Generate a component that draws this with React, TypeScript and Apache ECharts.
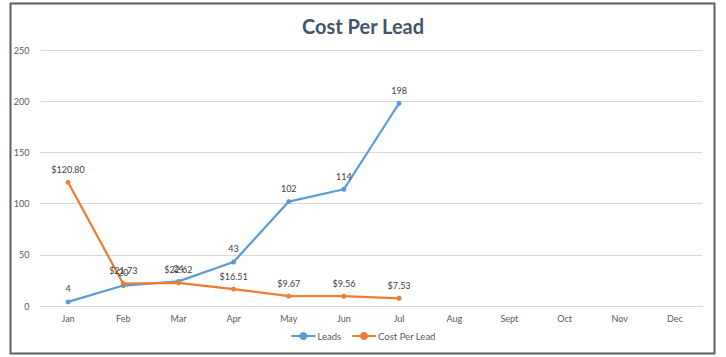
import React, { useEffect, useRef } from "react";
import * as echarts from "echarts";

const categories = ["Jan", "Feb", "Mar", "Apr", "May", "Jun", "Jul", "Aug", "Sept", "Oct", "Nov", "Dec"];
const leads = [4, 20, 24, 43, 102, 114, 198];
const costPerLead = [120.8, 21.73, 22.62, 16.51, 9.67, 9.56, 7.53];
const yTicks = { min: 0, max: 250, interval: 50 };

const FONT = "Lato, 'Open Sans', sans-serif";

export default function App() {
  const ref = useRef<HTMLDivElement>(null);
  useEffect(() => {
    if (!ref.current) return;
    const chart = echarts.init(ref.current, undefined, { renderer: "svg" });
    chart.setOption({
      animation: false,
      backgroundColor: "#ffffff",
      textStyle: { fontFamily: FONT },
      title: {
        text: "Cost Per Lead",
        left: "center",
        top: 11,
        textStyle: { fontFamily: FONT, fontSize: 20, fontWeight: "bold", color: "#44546a" },
      },
      graphic: [
        {
          type: "rect",
          shape: { x: 10.5, y: 3.5, width: 704, height: 350 },
          style: { fill: "none", stroke: "#58606a", lineWidth: 2 },
          silent: true,
        },
      ],
      legend: {
        bottom: 11,
        left: "center",
        itemWidth: 24,
        itemHeight: 10,
        itemGap: 10,
        textStyle: { fontFamily: FONT, fontSize: 9.5, color: "#595959", padding: [0, 0, 0, -3] },
        data: ["Leads", "Cost Per Lead"],
      },
      grid: { left: 40.5, right: 23.5, top: 50, bottom: 51 },
      xAxis: {
        type: "category",
        data: categories,
        boundaryGap: true,
        axisLine: { lineStyle: { color: "#d9d9d9" } },
        axisTick: { show: false },
        axisLabel: { fontFamily: FONT, fontSize: 9, color: "#595959", margin: 8 },
      },
      yAxis: {
        type: "value",
        min: yTicks.min,
        max: yTicks.max,
        interval: yTicks.interval,
        axisLine: { show: false },
        axisTick: { show: false },
        splitLine: { lineStyle: { color: "#d9d9d9" } },
        axisLabel: { fontFamily: FONT, fontSize: 9, color: "#595959", margin: 11 },
      },
      series: [
        {
          name: "Leads",
          type: "line",
          data: leads,
          symbol: "circle",
          symbolSize: 5,
          lineStyle: { color: "#5b9bd5", width: 2.25 },
          itemStyle: { color: "#5b9bd5" },
          label: { show: true, position: "top", distance: 6, fontFamily: FONT, fontSize: 9, color: "#404040" },
        },
        {
          name: "Cost Per Lead",
          type: "line",
          data: costPerLead,
          symbol: "circle",
          symbolSize: 5,
          lineStyle: { color: "#ed7d31", width: 2.25 },
          itemStyle: { color: "#ed7d31" },
          label: {
            show: true,
            position: "top",
            distance: 6,
            fontFamily: FONT,
            fontSize: 9,
            color: "#404040",
            formatter: (p: any) => "$" + Number(p.value).toFixed(2),
          },
        },
      ],
    });
    return () => chart.dispose();
  }, []);
  return <div ref={ref} style={{ position: "fixed", left: 0, top: 0, width: 726, height: 357 }} />;
}
